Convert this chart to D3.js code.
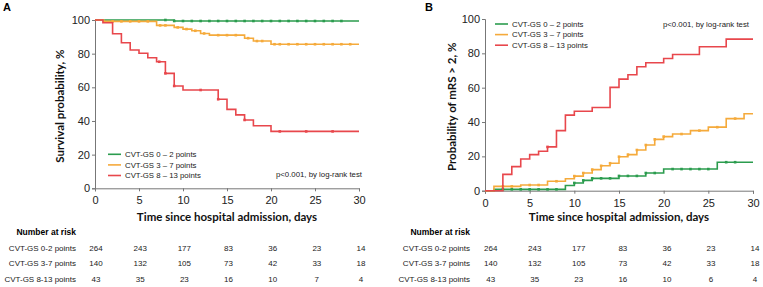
<!DOCTYPE html>
<html>
<head>
<meta charset="utf-8">
<script src="https://cdn.jsdelivr.net/npm/d3@7"></script>
<style>
  body { margin: 0; background: #fff; }
  svg { display: block; }
  .tick text { font-family: "Liberation Sans", Arial, sans-serif; font-size: 11px; fill: #222; }
  .domain, .tick line { stroke: #777; }
</style>
</head>
<body>
<div id="chart"></div>
<script>
// groups
var groups = ["CVT-GS 0 \u2013 2 points", "CVT-GS 3 \u2013 7 points", "CVT-GS 8 \u2013 13 points"];
var riskLabels = ["CVT-GS 0-2 points", "CVT-GS 3-7 points", "CVT-GS 8-13 points"];
var colors = ["#2b9c4e", "#f5aa3b", "#e8474c"];
var xTicks = [0, 5, 10, 15, 20, 25, 30];
var yTicks = [0, 20, 40, 60, 80, 100];

// panel A: survival, steps as [day, %]
var survGreen = [[0, 100], [9, 99.4], [30, 99.4]];
var survOrange = [[0, 100], [1, 99.2], [7, 96.8], [9, 95.6], [10, 94.6], [11, 93.6], [12, 92], [13, 91], [17, 89.2], [18, 87.5], [20, 85.6], [30, 85.6]];
var survRed = [[0, 100], [0.9, 98.4], [2, 91.8], [3, 86.5], [4, 82.2], [5, 80.2], [6, 77.6], [7, 75.2], [8, 68.3], [9, 60.8], [10, 58.4], [14, 52.9], [15, 46.9], [16, 43.6], [17, 40.6], [18, 37.2], [20, 33.8], [30, 33.8]];
var survGreenCens = [8, 9, 10, 11, 12, 13, 14, 15, 16, 17, 18, 19, 20, 21, 22, 23, 24, 25, 26, 27, 28];
var survOrangeCens = [2, 3, 4, 5, 6, 7.4, 8, 9.4, 10.4, 11.4, 12.4, 14, 15, 16, 17.4, 18.4, 19, 20.4, 21, 22, 23, 24, 25, 26, 27, 28, 29];
var survRedCens = [7.3, 8, 9, 12, 14, 17, 21, 24, 27];

// panel B: probability of mRS > 2
var mrsGreen = [[0, 0], [1, 0.8], [9, 3], [10, 4.5], [11, 6], [12, 7.2], [15, 8.6], [18, 10.3], [20, 12.6], [26, 16.6], [30, 16.6]];
var mrsOrange = [[0, 0], [1, 2.5], [4, 3.3], [7, 5.5], [9, 7], [10, 8.5], [11, 10.3], [12, 12.3], [13, 14.5], [14, 16], [15, 19.8], [16, 21], [17, 23.7], [18, 26.6], [19, 29.9], [20, 31.5], [21, 33], [23, 35], [25, 37], [27, 42], [29, 44.8], [30, 44.8]];
var mrsRed = [[0, 0], [2, 9.5], [3, 14], [4, 18.5], [5, 21], [6, 23], [7, 25.5], [8, 35], [9, 44], [10, 46.3], [12, 48.5], [14, 60.2], [15, 65], [16, 67.5], [17, 72.2], [18, 74.5], [20, 77], [21, 79.3], [24, 83.8], [27, 88.3], [30, 88.3]];
var mrsGreenCens = [2, 3, 4, 5, 6, 7, 8, 10, 11, 12, 13, 14, 15, 16, 17, 18, 19, 21, 22, 23, 24, 25, 27, 28];
var mrsOrangeCens = [2, 3, 5, 6, 8, 10, 11, 12, 13, 14, 15, 16, 17, 18, 19, 20, 22, 24, 26, 28];
var mrsRedCens = [7];

// number at risk
var riskA = [[264, 243, 177, 83, 36, 23, 14], [140, 132, 105, 73, 42, 33, 18], [43, 35, 23, 16, 10, 7, 4]];
var riskB = [[264, 243, 177, 83, 36, 23, 14], [140, 132, 105, 73, 42, 33, 18], [43, 35, 23, 16, 10, 6, 4]];

var svg = d3.select("#chart").append("svg")
    .attr("width", 763)
    .attr("height", 287);

function stepValue(steps, t) {
    var v = steps[0][1];
    for (var i = 0; i < steps.length; i++) {
        if (steps[i][0] <= t) v = steps[i][1];
    }
    return v;
}

function draw_panel(opt) {
    var x = d3.scaleLinear().domain([0, 30]).range([opt.x0, opt.x1]);
    var y = d3.scaleLinear().domain([0, 100]).range([opt.yb, opt.yt]);
    var tx = d3.scaleLinear().domain([0, 30]).range(opt.tableRange);
    var g = svg.append("g");

    var xAxis = g.append("g")
        .attr("transform", "translate(0," + opt.yb + ")")
        .call(d3.axisBottom(x).tickValues(xTicks).tickSize(3).tickPadding(2));
    xAxis.selectAll(".tick text").attr("dy", null).attr("y", 16);
    g.append("g")
        .attr("transform", "translate(" + opt.x0 + ",0)")
        .call(d3.axisLeft(y).tickValues(yTicks).tickSize(3).tickPadding(2));

    var line = d3.line()
        .x(function (d) { return x(d[0]); })
        .y(function (d) { return y(d[1]); })
        .curve(d3.curveStepAfter);

    opt.curves.forEach(function (c, i) {
        g.append("path")
            .attr("d", line(c))
            .attr("fill", "none")
            .attr("stroke", colors[i])
            .attr("stroke-width", 1.6);
        g.selectAll(null)
            .data(opt.cens[i])
            .enter().append("rect")
            .attr("x", function (d) { return x(d) - 1.3; })
            .attr("y", function (d) { return y(stepValue(c, d)) - 1.3; })
            .attr("width", 2.6)
            .attr("height", 2.6)
            .attr("fill", colors[i]);
    });

    // panel letter
    svg.append("text")
        .attr("x", opt.letterX)
        .attr("y", 11)
        .attr("font-family", "Liberation Sans, Arial, sans-serif")
        .attr("font-weight", "bold")
        .attr("font-size", "11px")
        .text(opt.letter);

    // axis titles
    svg.append("text")
        .attr("transform", "translate(" + opt.yTitleX + "," + ((opt.yt + opt.yb) / 2 + 2) + ") rotate(-90)")
        .attr("text-anchor", "middle")
        .attr("font-family", "Lato, sans-serif")
        .attr("font-weight", "bold")
        .attr("font-size", "11.5px")
        .attr("fill", "#111")
        .text(opt.yTitle);
    svg.append("text")
        .attr("x", (opt.x0 + opt.x1) / 2)
        .attr("y", 221)
        .attr("text-anchor", "middle")
        .attr("font-family", "Lato, sans-serif")
        .attr("font-weight", "bold")
        .attr("font-size", "11.5px")
        .attr("fill", "#111")
        .text("Time since hospital admission, days");

    // legend
    groups.forEach(function (name, i) {
        var ly = opt.legY + i * 10.6;
        svg.append("line")
            .attr("x1", opt.legX).attr("x2", opt.legX + 13)
            .attr("y1", ly).attr("y2", ly)
            .attr("stroke", colors[i]).attr("stroke-width", 1.6);
        svg.append("text")
            .attr("x", opt.legX + 17)
            .attr("y", ly + 2.8)
            .attr("font-family", "Liberation Sans, Arial, sans-serif")
            .attr("font-size", "7.8px")
            .attr("fill", "#222")
            .text(name);
    });
    svg.append("text")
        .attr("x", opt.pX)
        .attr("y", opt.pY)
        .attr("text-anchor", "end")
        .attr("font-family", "Liberation Sans, Arial, sans-serif")
        .attr("font-size", "7.8px")
        .attr("fill", "#222")
        .text("p<0.001, by log-rank test");

    // number at risk table
    svg.append("text")
        .attr("x", opt.tableRight)
        .attr("y", 235)
        .attr("text-anchor", "end")
        .attr("font-family", "Liberation Sans, Arial, sans-serif")
        .attr("font-weight", "bold")
        .attr("font-size", "8.5px")
        .text("Number at risk");
    var rowY = [251, 266.2, 281.6];
    opt.risk.forEach(function (row, i) {
        svg.append("text")
            .attr("x", opt.tableRight)
            .attr("y", rowY[i])
            .attr("text-anchor", "end")
            .attr("font-family", "Liberation Sans, Arial, sans-serif")
            .attr("font-size", "8px")
            .attr("fill", "#222")
            .text(riskLabels[i]);
        svg.selectAll(null)
            .data(row)
            .enter().append("text")
            .attr("x", function (d, j) { return tx(xTicks[j]); })
            .attr("y", rowY[i])
            .attr("text-anchor", "middle")
            .attr("font-family", "Liberation Sans, Arial, sans-serif")
            .attr("font-size", "8px")
            .attr("fill", "#222")
            .text(function (d) { return d; });
    });
}

draw_panel({
    letter: "A", letterX: 3,
    x0: 95, x1: 359, yt: 20, yb: 188.3,
    yTitle: "Survival probability, %", yTitleX: 64,
    curves: [survGreen, survOrange, survRed],
    cens: [survGreenCens, survOrangeCens, survRedCens],
    legX: 108, legY: 154.3,
    pX: 362, pY: 177,
    tableRight: 76, tableRange: [96, 361],
    risk: riskA
});

draw_panel({
    letter: "B", letterX: 425,
    x0: 485, x1: 753, yt: 19, yb: 190.7,
    yTitle: "Probability of mRS > 2, %", yTitleX: 455.5,
    curves: [mrsGreen, mrsOrange, mrsRed],
    cens: [mrsGreenCens, mrsOrangeCens, mrsRedCens],
    legX: 495, legY: 24,
    pX: 749, pY: 27,
    tableRight: 470, tableRange: [490.7, 755],
    risk: riskB
});
</script>
</body>
</html>
